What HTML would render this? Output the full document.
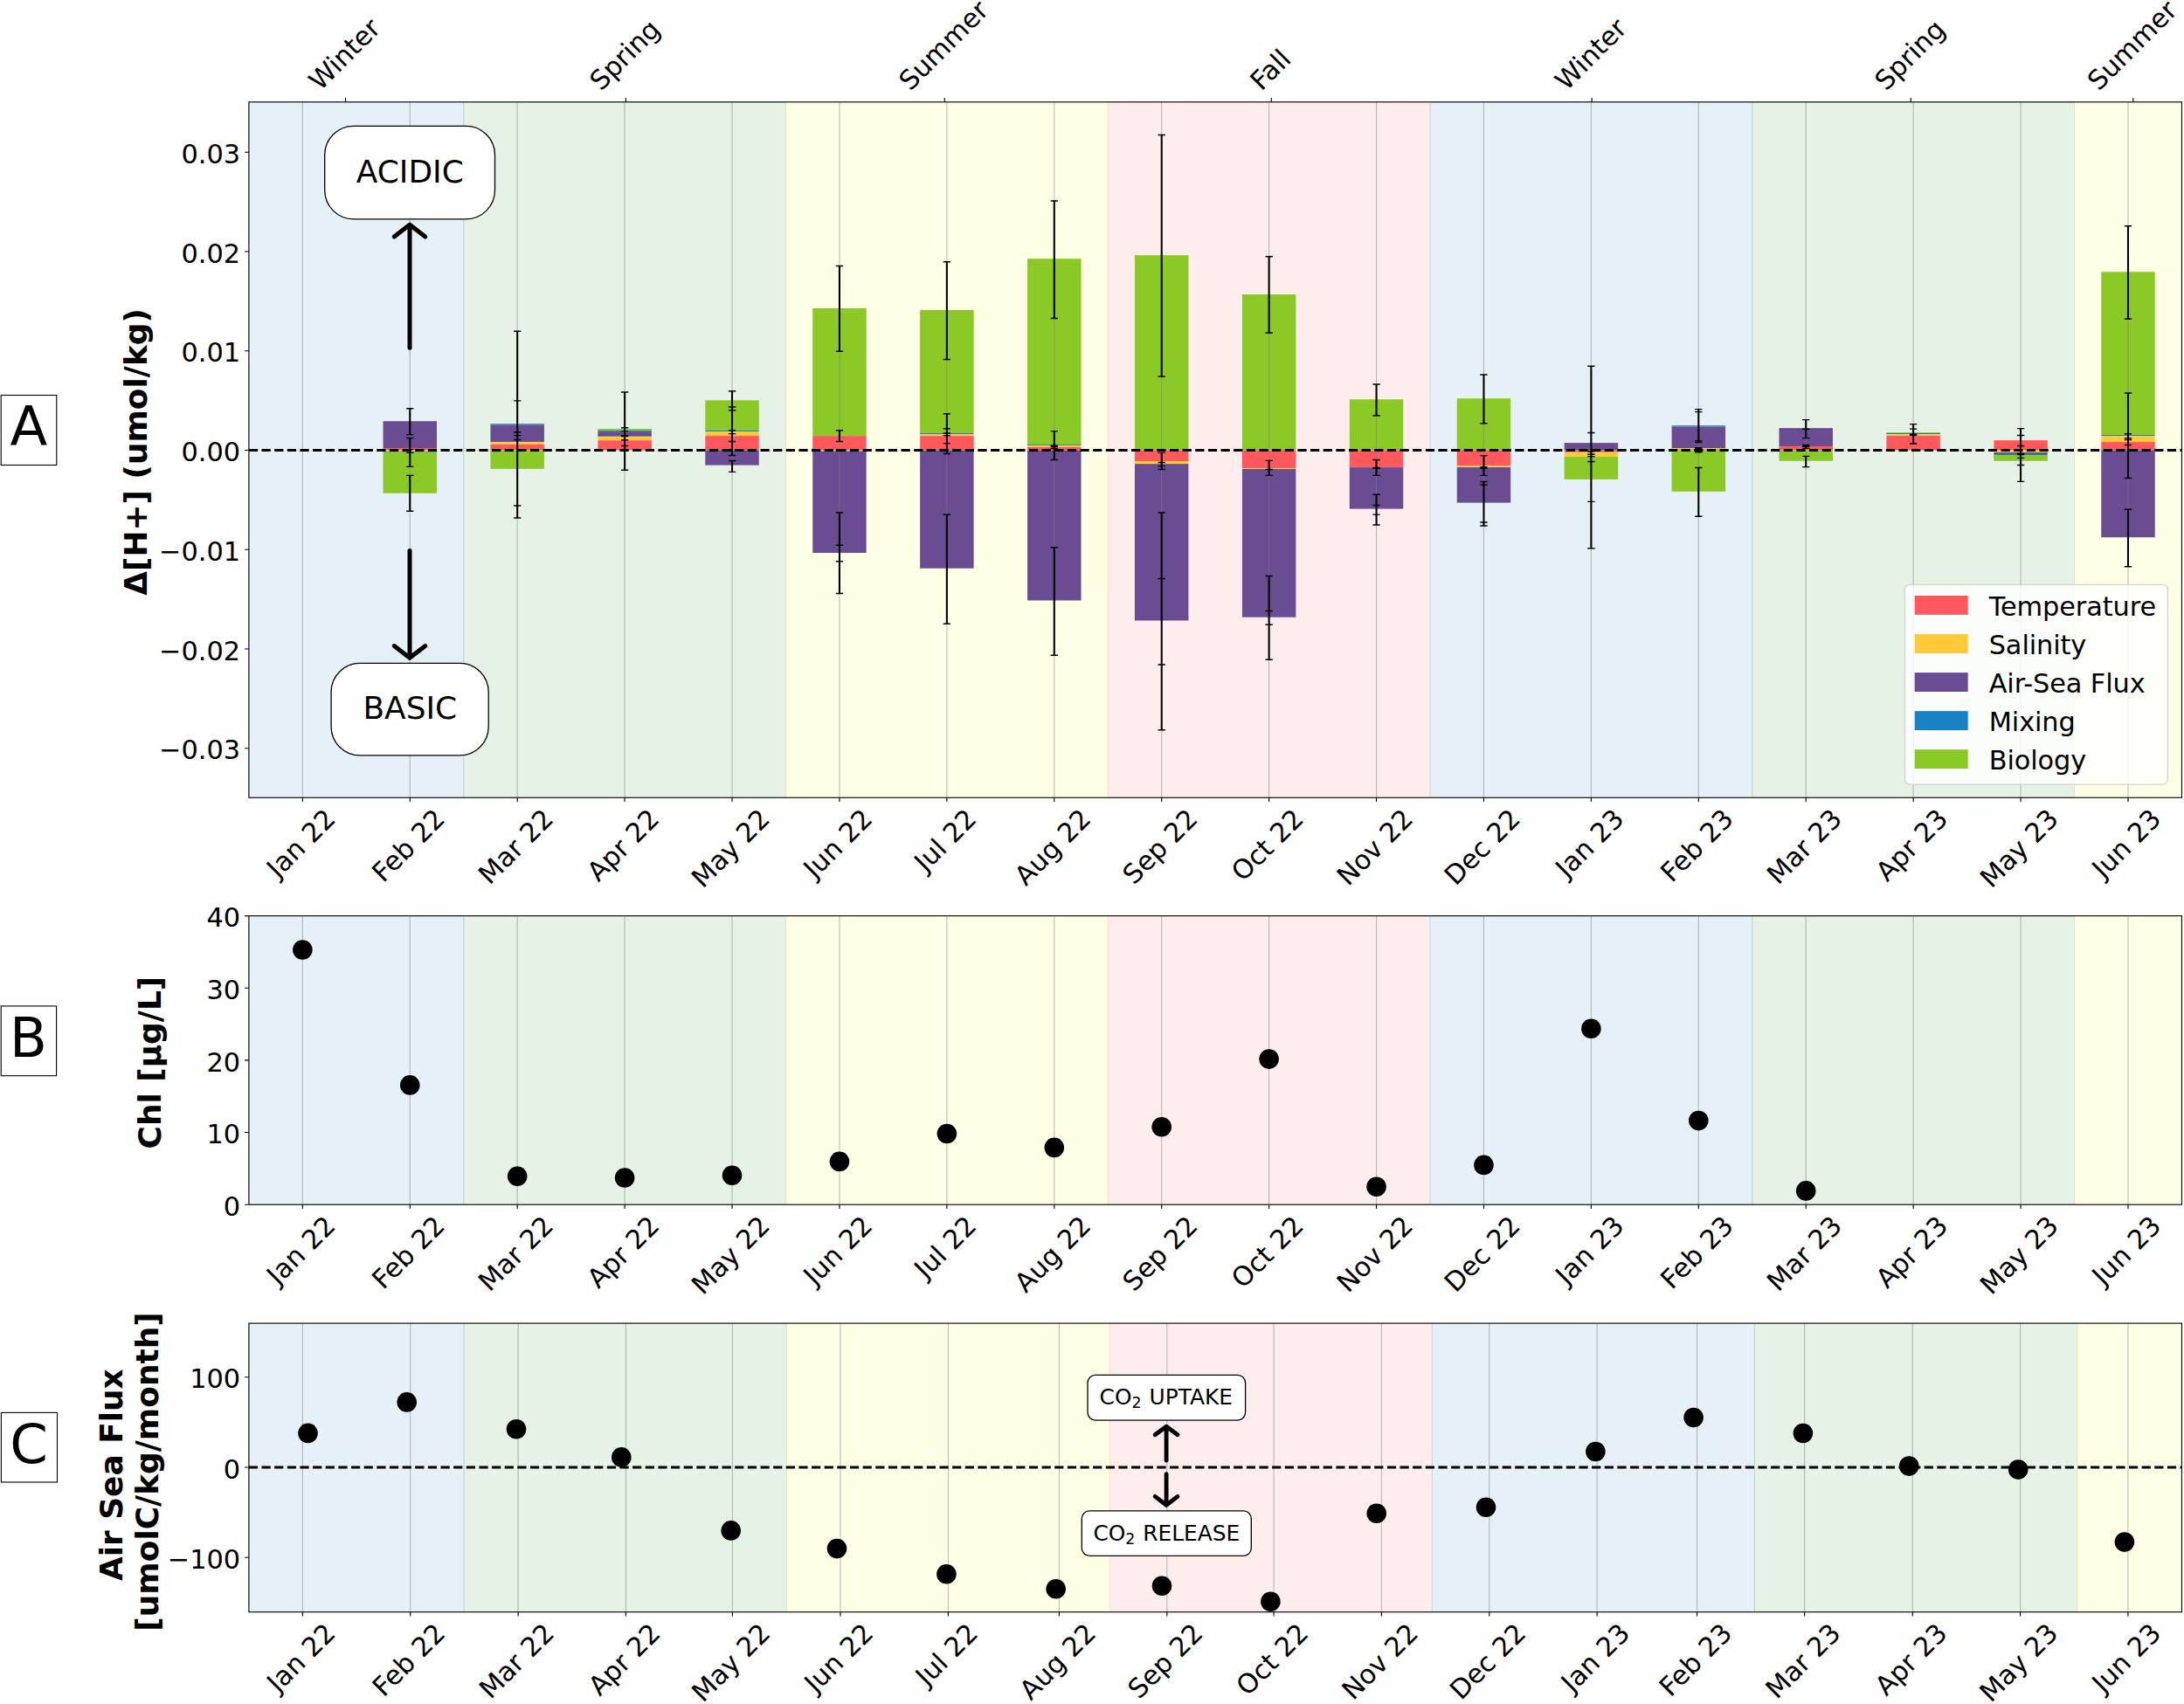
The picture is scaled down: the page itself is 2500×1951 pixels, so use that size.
<!DOCTYPE html>
<html><head><meta charset="utf-8"><title>Figure</title>
<style>
html,body{margin:0;padding:0;background:#fff}
svg{display:block}
text{font-family:"DejaVu Sans","Liberation Sans",sans-serif;fill:#000}
</style></head>
<body>
<svg width="2500" height="1951" viewBox="0 0 2500 1951">
<rect width="2500" height="1951" fill="#fff"/>
<g id="panelA">
<rect x="284.89" y="116.8" width="2212.56" height="796.45" fill="#fff"/>
<rect x="284.89" y="116.8" width="245.84" height="796.45" fill="rgba(0,114,178,0.1)" stroke="rgba(0,114,178,0.1)" stroke-width="1.1"/>
<rect x="530.73" y="116.8" width="368.76" height="796.45" fill="rgba(0,128,0,0.1)" stroke="rgba(0,128,0,0.1)" stroke-width="1.1"/>
<rect x="899.49" y="116.8" width="368.76" height="796.45" fill="rgba(255,255,0,0.1)" stroke="rgba(255,255,0,0.1)" stroke-width="1.1"/>
<rect x="1268.25" y="116.8" width="368.76" height="796.45" fill="rgba(255,0,0,0.07)" stroke="rgba(255,0,0,0.07)" stroke-width="1.1"/>
<rect x="1637.01" y="116.8" width="368.76" height="796.45" fill="rgba(0,114,178,0.1)" stroke="rgba(0,114,178,0.1)" stroke-width="1.1"/>
<rect x="2005.77" y="116.8" width="368.76" height="796.45" fill="rgba(0,128,0,0.1)" stroke="rgba(0,128,0,0.1)" stroke-width="1.1"/>
<rect x="2374.53" y="116.8" width="122.92" height="796.45" fill="rgba(255,255,0,0.1)" stroke="rgba(255,255,0,0.1)" stroke-width="1.1"/>
<rect x="438.54" y="482.25" width="61.46" height="30.75" fill="#6a4c93"/>
<rect x="438.54" y="513" width="61.46" height="2.5" fill="#ff595e"/>
<rect x="438.54" y="515.5" width="61.46" height="1.4" fill="#ffca3a"/>
<rect x="438.54" y="516.9" width="61.46" height="0.8" fill="#1982c4"/>
<rect x="438.54" y="517.7" width="61.46" height="47.05" fill="#8ac926"/>
<rect x="561.46" y="485.2" width="61.46" height="1.15" fill="#1982c4"/>
<rect x="561.46" y="486.35" width="61.46" height="19.6" fill="#6a4c93"/>
<rect x="561.46" y="505.95" width="61.46" height="2.95" fill="#ffca3a"/>
<rect x="561.46" y="508.9" width="61.46" height="6.6" fill="#ff595e"/>
<rect x="561.46" y="515.5" width="61.46" height="21.3" fill="#8ac926"/>
<rect x="684.38" y="490.95" width="61.46" height="1.95" fill="#8ac926"/>
<rect x="684.38" y="492.9" width="61.46" height="1.2" fill="#1982c4"/>
<rect x="684.38" y="494.1" width="61.46" height="5.7" fill="#6a4c93"/>
<rect x="684.38" y="499.8" width="61.46" height="4.4" fill="#ffca3a"/>
<rect x="684.38" y="504.2" width="61.46" height="11.3" fill="#ff595e"/>
<rect x="807.3" y="458.3" width="61.46" height="34.6" fill="#8ac926"/>
<rect x="807.3" y="492.9" width="61.46" height="1.2" fill="#1982c4"/>
<rect x="807.3" y="494.1" width="61.46" height="5" fill="#ffca3a"/>
<rect x="807.3" y="499.1" width="61.46" height="16.4" fill="#ff595e"/>
<rect x="807.3" y="515.5" width="61.46" height="17.1" fill="#6a4c93"/>
<rect x="930.22" y="353" width="61.46" height="146.1" fill="#8ac926"/>
<rect x="930.22" y="499.1" width="61.46" height="16.4" fill="#ff595e"/>
<rect x="930.22" y="515.5" width="61.46" height="1" fill="#ffca3a"/>
<rect x="930.22" y="516.5" width="61.46" height="116.5" fill="#6a4c93"/>
<rect x="1053.14" y="355" width="61.46" height="140.85" fill="#8ac926"/>
<rect x="1053.14" y="495.85" width="61.46" height="1.25" fill="#1982c4"/>
<rect x="1053.14" y="497.1" width="61.46" height="2" fill="#ffca3a"/>
<rect x="1053.14" y="499.1" width="61.46" height="16.4" fill="#ff595e"/>
<rect x="1053.14" y="515.5" width="61.46" height="135.25" fill="#6a4c93"/>
<rect x="1176.06" y="296.25" width="61.46" height="212.85" fill="#8ac926"/>
<rect x="1176.06" y="509.1" width="61.46" height="0.95" fill="#1982c4"/>
<rect x="1176.06" y="510.05" width="61.46" height="1.95" fill="#ffca3a"/>
<rect x="1176.06" y="512" width="61.46" height="3.5" fill="#ff595e"/>
<rect x="1176.06" y="515.5" width="61.46" height="172" fill="#6a4c93"/>
<rect x="1298.98" y="292.25" width="61.46" height="223.25" fill="#8ac926"/>
<rect x="1298.98" y="515.5" width="61.46" height="12.5" fill="#ff595e"/>
<rect x="1298.98" y="528" width="61.46" height="3.1" fill="#ffca3a"/>
<rect x="1298.98" y="531.1" width="61.46" height="179.4" fill="#6a4c93"/>
<rect x="1421.9" y="337.1" width="61.46" height="178.4" fill="#8ac926"/>
<rect x="1421.9" y="515.5" width="61.46" height="20.55" fill="#ff595e"/>
<rect x="1421.9" y="536.05" width="61.46" height="0.95" fill="#ffca3a"/>
<rect x="1421.9" y="537" width="61.46" height="169.7" fill="#6a4c93"/>
<rect x="1544.82" y="457.25" width="61.46" height="58.25" fill="#8ac926"/>
<rect x="1544.82" y="515.5" width="61.46" height="19.6" fill="#ff595e"/>
<rect x="1544.82" y="535.1" width="61.46" height="47.5" fill="#6a4c93"/>
<rect x="1667.74" y="456.25" width="61.46" height="59.25" fill="#8ac926"/>
<rect x="1667.74" y="515.5" width="61.46" height="17.6" fill="#ff595e"/>
<rect x="1667.74" y="533.1" width="61.46" height="1.95" fill="#ffca3a"/>
<rect x="1667.74" y="535.05" width="61.46" height="40.55" fill="#6a4c93"/>
<rect x="1790.66" y="507.1" width="61.46" height="8.4" fill="#6a4c93"/>
<rect x="1790.66" y="515.5" width="61.46" height="2.2" fill="#ff595e"/>
<rect x="1790.66" y="517.7" width="61.46" height="5.2" fill="#ffca3a"/>
<rect x="1790.66" y="522.9" width="61.46" height="25.95" fill="#8ac926"/>
<rect x="1913.58" y="487.2" width="61.46" height="1.4" fill="#1982c4"/>
<rect x="1913.58" y="488.6" width="61.46" height="24.5" fill="#6a4c93"/>
<rect x="1913.58" y="513.1" width="61.46" height="1.3" fill="#ffca3a"/>
<rect x="1913.58" y="514.4" width="61.46" height="1.1" fill="#ff595e"/>
<rect x="1913.58" y="515.5" width="61.46" height="47.3" fill="#8ac926"/>
<rect x="2036.5" y="490.1" width="61.46" height="20.85" fill="#6a4c93"/>
<rect x="2036.5" y="510.95" width="61.46" height="4.55" fill="#ff595e"/>
<rect x="2036.5" y="515.5" width="61.46" height="12.2" fill="#8ac926"/>
<rect x="2159.42" y="495.1" width="61.46" height="0.85" fill="#8ac926"/>
<rect x="2159.42" y="495.95" width="61.46" height="1.1" fill="#1982c4"/>
<rect x="2159.42" y="497.05" width="61.46" height="1.95" fill="#ffca3a"/>
<rect x="2159.42" y="499" width="61.46" height="16.5" fill="#ff595e"/>
<rect x="2282.34" y="504.1" width="61.46" height="11.4" fill="#ff595e"/>
<rect x="2282.34" y="515.5" width="61.46" height="2.5" fill="#ffca3a"/>
<rect x="2282.34" y="518" width="61.46" height="1.95" fill="#6a4c93"/>
<rect x="2282.34" y="519.95" width="61.46" height="1.1" fill="#1982c4"/>
<rect x="2282.34" y="521.05" width="61.46" height="6.75" fill="#8ac926"/>
<rect x="2405.26" y="311.3" width="61.46" height="186.6" fill="#8ac926"/>
<rect x="2405.26" y="497.9" width="61.46" height="1.15" fill="#1982c4"/>
<rect x="2405.26" y="499.05" width="61.46" height="7" fill="#ffca3a"/>
<rect x="2405.26" y="506.05" width="61.46" height="9.45" fill="#ff595e"/>
<rect x="2405.26" y="515.5" width="61.46" height="99.7" fill="#6a4c93"/>
<path d="M346.35 116.8V913.25M469.27 116.8V913.25M592.19 116.8V913.25M715.11 116.8V913.25M838.03 116.8V913.25M960.95 116.8V913.25M1083.87 116.8V913.25M1206.79 116.8V913.25M1329.71 116.8V913.25M1452.63 116.8V913.25M1575.55 116.8V913.25M1698.47 116.8V913.25M1821.39 116.8V913.25M1944.31 116.8V913.25M2067.23 116.8V913.25M2190.15 116.8V913.25M2313.07 116.8V913.25M2435.99 116.8V913.25" stroke="#808080" stroke-opacity="0.5" stroke-width="1.11" fill="none"/>
<path d="M469.27 467.7V497.6M469.27 501.5V534.4M469.27 544.4V585.25" stroke="#000" stroke-width="2.08" fill="none"/>
<path d="M465.11 467.7h8.33M465.11 497.6h8.33M465.11 501.5h8.33M465.11 514.6h8.33M465.11 518.2h8.33M465.11 534.4h8.33M465.11 544.4h8.33M465.11 585.25h8.33" stroke="#000" stroke-width="1.39" fill="none"/>
<path d="M592.19 379.25V593" stroke="#000" stroke-width="2.08" fill="none"/>
<path d="M588.03 379.25h8.33M588.03 458.9h8.33M588.03 494.7h8.33M588.03 498.6h8.33M588.03 503.5h8.33M588.03 579h8.33M588.03 593h8.33" stroke="#000" stroke-width="1.39" fill="none"/>
<path d="M715.11 449V538.3" stroke="#000" stroke-width="2.08" fill="none"/>
<path d="M710.95 449h8.33M710.95 489.8h8.33M710.95 493.6h8.33M710.95 498.8h8.33M710.95 499.6h8.33M710.95 503.7h8.33M710.95 510.55h8.33M710.95 538.3h8.33" stroke="#000" stroke-width="1.39" fill="none"/>
<path d="M838.03 447.8V521.5M838.03 527.5V540.4" stroke="#000" stroke-width="2.08" fill="none"/>
<path d="M833.87 447.8h8.33M833.87 466h8.33M833.87 469.7h8.33M833.87 492.9h8.33M833.87 496.6h8.33M833.87 505.45h8.33M833.87 521.5h8.33M833.87 527.5h8.33M833.87 540.4h8.33" stroke="#000" stroke-width="1.39" fill="none"/>
<path d="M960.95 304.5V402.25M960.95 492.7V505.45M960.95 587V679.5" stroke="#000" stroke-width="2.08" fill="none"/>
<path d="M956.79 304.5h8.33M956.79 402.25h8.33M956.79 492.7h8.33M956.79 505.45h8.33M956.79 514.8h8.33M956.79 516.3h8.33M956.79 587h8.33M956.79 624.25h8.33M956.79 642.75h8.33M956.79 679.5h8.33" stroke="#000" stroke-width="1.39" fill="none"/>
<path d="M1083.87 299.75V411.5M1083.87 473.8V519.55M1083.87 589.25V714.25" stroke="#000" stroke-width="2.08" fill="none"/>
<path d="M1079.7 299.75h8.33M1079.7 411.5h8.33M1079.7 473.8h8.33M1079.7 490.75h8.33M1079.7 496.05h8.33M1079.7 498.6h8.33M1079.7 507.6h8.33M1079.7 519.55h8.33M1079.7 589.25h8.33M1079.7 714.25h8.33" stroke="#000" stroke-width="1.39" fill="none"/>
<path d="M1206.79 230V364.5M1206.79 493.6V526.5M1206.79 626.75V750.25" stroke="#000" stroke-width="2.08" fill="none"/>
<path d="M1202.62 230h8.33M1202.62 364.5h8.33M1202.62 493.6h8.33M1202.62 510.2h8.33M1202.62 511.2h8.33M1202.62 513.5h8.33M1202.62 526.5h8.33M1202.62 626.75h8.33M1202.62 750.25h8.33" stroke="#000" stroke-width="1.39" fill="none"/>
<path d="M1329.71 154.5V431.25M1329.71 518.4V537.5M1329.71 587V835.75" stroke="#000" stroke-width="2.08" fill="none"/>
<path d="M1325.55 154.5h8.33M1325.55 431.25h8.33M1325.55 518.4h8.33M1325.55 529.45h8.33M1325.55 533.6h8.33M1325.55 537.5h8.33M1325.55 587h8.33M1325.55 662.5h8.33M1325.55 761h8.33M1325.55 835.75h8.33" stroke="#000" stroke-width="1.39" fill="none"/>
<path d="M1452.63 293.75V381.25M1452.63 527.4V544.4M1452.63 659.5V755.25" stroke="#000" stroke-width="2.08" fill="none"/>
<path d="M1448.47 293.75h8.33M1448.47 381.25h8.33M1448.47 527.4h8.33M1448.47 537.5h8.33M1448.47 544.4h8.33M1448.47 659.5h8.33M1448.47 699.5h8.33M1448.47 715.25h8.33M1448.47 755.25h8.33" stroke="#000" stroke-width="1.39" fill="none"/>
<path d="M1575.55 440V475.75M1575.55 526.55V544.4M1575.55 566.2V601" stroke="#000" stroke-width="2.08" fill="none"/>
<path d="M1571.39 440h8.33M1571.39 475.75h8.33M1571.39 526.55h8.33M1571.39 535.5h8.33M1571.39 536.3h8.33M1571.39 544.4h8.33M1571.39 566.2h8.33M1571.39 578.5h8.33M1571.39 589.15h8.33M1571.39 601h8.33" stroke="#000" stroke-width="1.39" fill="none"/>
<path d="M1698.47 429V484.7M1698.47 521.6V544.4M1698.47 551.5V602" stroke="#000" stroke-width="2.08" fill="none"/>
<path d="M1694.31 429h8.33M1694.31 484.7h8.33M1694.31 521.6h8.33M1694.31 534.6h8.33M1694.31 536.3h8.33M1694.31 544.4h8.33M1694.31 551.5h8.33M1694.31 555.25h8.33M1694.31 598h8.33M1694.31 602h8.33" stroke="#000" stroke-width="1.39" fill="none"/>
<path d="M1821.39 419.25V627.75" stroke="#000" stroke-width="2.08" fill="none"/>
<path d="M1817.22 419.25h8.33M1817.22 495.5h8.33M1817.22 516.7h8.33M1817.22 520.2h8.33M1817.22 522.6h8.33M1817.22 528.5h8.33M1817.22 574.35h8.33M1817.22 627.75h8.33" stroke="#000" stroke-width="1.39" fill="none"/>
<path d="M1944.31 468.6V506.5M1944.31 512.5V518M1944.31 535.45V591.25" stroke="#000" stroke-width="2.08" fill="none"/>
<path d="M1940.14 468.6h8.33M1940.14 471.6h8.33M1940.14 504.6h8.33M1940.14 506.5h8.33M1940.14 512.8h8.33M1940.14 514.2h8.33M1940.14 516.6h8.33M1940.14 517.8h8.33M1940.14 535.45h8.33M1940.14 591.25h8.33" stroke="#000" stroke-width="1.39" fill="none"/>
<path d="M2067.23 480.6V501.65M2067.23 509.5V513.4M2067.23 522.4V534.65" stroke="#000" stroke-width="2.08" fill="none"/>
<path d="M2063.07 480.6h8.33M2063.07 491.35h8.33M2063.07 501.65h8.33M2063.07 509.5h8.33M2063.07 511.25h8.33M2063.07 513.4h8.33M2063.07 522.4h8.33M2063.07 534.65h8.33" stroke="#000" stroke-width="1.39" fill="none"/>
<path d="M2190.15 485.65V508" stroke="#000" stroke-width="2.08" fill="none"/>
<path d="M2185.99 485.65h8.33M2185.99 491.15h8.33M2185.99 497.2h8.33M2185.99 498.2h8.33M2185.99 508h8.33" stroke="#000" stroke-width="1.39" fill="none"/>
<path d="M2313.07 490.65V551.4" stroke="#000" stroke-width="2.08" fill="none"/>
<path d="M2308.91 490.65h8.33M2308.91 498.5h8.33M2308.91 510.45h8.33M2308.91 519.5h8.33M2308.91 520.5h8.33M2308.91 524.4h8.33M2308.91 532.5h8.33M2308.91 551.4h8.33" stroke="#000" stroke-width="1.39" fill="none"/>
<path d="M2435.99 258.7V365.3M2435.99 450V547.5M2435.99 583.3V648.8" stroke="#000" stroke-width="2.08" fill="none"/>
<path d="M2431.82 258.7h8.33M2431.82 365.3h8.33M2431.82 450h8.33M2431.82 496.75h8.33M2431.82 501.7h8.33M2431.82 503.6h8.33M2431.82 509.55h8.33M2431.82 547.5h8.33M2431.82 583.3h8.33M2431.82 648.8h8.33" stroke="#000" stroke-width="1.39" fill="none"/>
<path d="M284.89 515.5H2497.45" stroke="#000" stroke-width="2.76" stroke-dasharray="10.22 4.42" fill="none"/>
<rect x="284.89" y="116.8" width="2212.56" height="796.45" fill="none" stroke="#000" stroke-width="1.11"/>
<path d="M284.89 174.31h-4.86M284.89 288.04h-4.86M284.89 401.77h-4.86M284.89 515.5h-4.86M284.89 629.23h-4.86M284.89 742.96h-4.86M284.89 856.69h-4.86" stroke="#000" stroke-width="1.11" fill="none"/>
<text x="275.17" y="186.92" font-size="30.39" text-anchor="end">0.03</text>
<text x="275.17" y="300.65" font-size="30.39" text-anchor="end">0.02</text>
<text x="275.17" y="414.38" font-size="30.39" text-anchor="end">0.01</text>
<text x="275.17" y="528.11" font-size="30.39" text-anchor="end">0.00</text>
<text x="275.17" y="641.84" font-size="30.39" text-anchor="end">−0.01</text>
<text x="275.17" y="755.57" font-size="30.39" text-anchor="end">−0.02</text>
<text x="275.17" y="869.3" font-size="30.39" text-anchor="end">−0.03</text>
<path d="M346.35 913.25v4.86M469.27 913.25v4.86M592.19 913.25v4.86M715.11 913.25v4.86M838.03 913.25v4.86M960.95 913.25v4.86M1083.87 913.25v4.86M1206.79 913.25v4.86M1329.71 913.25v4.86M1452.63 913.25v4.86M1575.55 913.25v4.86M1698.47 913.25v4.86M1821.39 913.25v4.86M1944.31 913.25v4.86M2067.23 913.25v4.86M2190.15 913.25v4.86M2313.07 913.25v4.86M2435.99 913.25v4.86" stroke="#000" stroke-width="1.11" fill="none"/>
<text transform="translate(346.35,967.32) rotate(-45)" x="0" y="7.96" font-size="30.39" text-anchor="middle">Jan 22</text>
<text transform="translate(469.27,969.78) rotate(-45)" x="0" y="7.96" font-size="30.39" text-anchor="middle">Feb 22</text>
<text transform="translate(592.19,971.03) rotate(-45)" x="0" y="7.96" font-size="30.39" text-anchor="middle">Mar 22</text>
<text transform="translate(715.11,969.34) rotate(-45)" x="0" y="7.96" font-size="30.39" text-anchor="middle">Apr 22</text>
<text transform="translate(838.03,972.97) rotate(-45)" x="0" y="7.96" font-size="30.39" text-anchor="middle">May 22</text>
<text transform="translate(960.95,967.54) rotate(-45)" x="0" y="7.96" font-size="30.39" text-anchor="middle">Jun 22</text>
<text transform="translate(1083.87,963.72) rotate(-45)" x="0" y="7.96" font-size="30.39" text-anchor="middle">Jul 22</text>
<text transform="translate(1206.79,971.74) rotate(-45)" x="0" y="7.96" font-size="30.39" text-anchor="middle">Aug 22</text>
<text transform="translate(1329.71,971.01) rotate(-45)" x="0" y="7.96" font-size="30.39" text-anchor="middle">Sep 22</text>
<text transform="translate(1452.63,969.33) rotate(-45)" x="0" y="7.96" font-size="30.39" text-anchor="middle">Oct 22</text>
<text transform="translate(1575.55,971.72) rotate(-45)" x="0" y="7.96" font-size="30.39" text-anchor="middle">Nov 22</text>
<text transform="translate(1698.47,971.55) rotate(-45)" x="0" y="7.96" font-size="30.39" text-anchor="middle">Dec 22</text>
<text transform="translate(1821.39,967.32) rotate(-45)" x="0" y="7.96" font-size="30.39" text-anchor="middle">Jan 23</text>
<text transform="translate(1944.31,969.78) rotate(-45)" x="0" y="7.96" font-size="30.39" text-anchor="middle">Feb 23</text>
<text transform="translate(2067.23,971.03) rotate(-45)" x="0" y="7.96" font-size="30.39" text-anchor="middle">Mar 23</text>
<text transform="translate(2190.15,969.34) rotate(-45)" x="0" y="7.96" font-size="30.39" text-anchor="middle">Apr 23</text>
<text transform="translate(2313.07,972.97) rotate(-45)" x="0" y="7.96" font-size="30.39" text-anchor="middle">May 23</text>
<text transform="translate(2435.99,967.54) rotate(-45)" x="0" y="7.96" font-size="30.39" text-anchor="middle">Jun 23</text>
<path d="M395.5 116.8v-4.86M716.4 116.8v-4.86M1081.3 116.8v-4.86M1455.3 116.8v-4.86M1822.1 116.8v-4.86M2187.3 116.8v-4.86M2441.8 116.8v-4.86" stroke="#000" stroke-width="1.11" fill="none"/>
<text transform="translate(396.2,63.86) rotate(-45)" x="0" y="7.96" font-size="30.39" text-anchor="middle">Winter</text>
<text transform="translate(717.1,64.61) rotate(-45)" x="0" y="7.96" font-size="30.39" text-anchor="middle">Spring</text>
<text transform="translate(1082,53.69) rotate(-45)" x="0" y="7.96" font-size="30.39" text-anchor="middle">Summer</text>
<text transform="translate(1456,81.53) rotate(-45)" x="0" y="7.96" font-size="30.39" text-anchor="middle">Fall</text>
<text transform="translate(1822.8,63.86) rotate(-45)" x="0" y="7.96" font-size="30.39" text-anchor="middle">Winter</text>
<text transform="translate(2188,64.61) rotate(-45)" x="0" y="7.96" font-size="30.39" text-anchor="middle">Spring</text>
<text transform="translate(2442.5,53.69) rotate(-45)" x="0" y="7.96" font-size="30.39" text-anchor="middle">Summer</text>
<text transform="translate(168.3,517.4) rotate(-90)" font-size="35.91" font-weight="bold" text-anchor="middle">Δ[H+] (umol/kg)</text>
<rect x="371.7" y="144.3" width="194.8" height="106.5" rx="33" ry="33" fill="#fff" stroke="#000" stroke-width="1.3"/>
<text x="469.3" y="208.9" font-size="35.91" text-anchor="middle">ACIDIC</text>
<rect x="379.1" y="759.3" width="180.1" height="105.6" rx="33" ry="33" fill="#fff" stroke="#000" stroke-width="1.3"/>
<text x="469.3" y="823" font-size="35.91" text-anchor="middle">BASIC</text>
<path d="M469 398.2V257.3 M451.2 271L469 257.3L486.8 271" stroke="#000" stroke-width="5" stroke-linecap="round" stroke-linejoin="round" fill="none"/>
<path d="M469 630.5V753.3 M451.2 739.6L469 753.3L486.8 739.6" stroke="#000" stroke-width="5" stroke-linecap="round" stroke-linejoin="round" fill="none"/>
<rect x="2180.5" y="669.4" width="300.8" height="228.7" rx="5.5" ry="5.5" fill="#fff" fill-opacity="0.8" stroke="#ccc" stroke-opacity="0.8" stroke-width="1.39"/>
<rect x="2191.7" y="682" width="61" height="21.9" fill="#ff595e"/>
<text x="2276.7" y="705" font-size="30.39" letter-spacing="-0.1">Temperature</text>
<rect x="2191.7" y="726.05" width="61" height="21.9" fill="#ffca3a"/>
<text x="2276.7" y="748.9" font-size="30.39" letter-spacing="-0.1">Salinity</text>
<rect x="2191.7" y="770.1" width="61" height="21.9" fill="#6a4c93"/>
<text x="2276.7" y="792.8" font-size="30.39" letter-spacing="-0.1">Air-Sea Flux</text>
<rect x="2191.7" y="814.15" width="61" height="21.9" fill="#1982c4"/>
<text x="2276.7" y="836.7" font-size="30.39" letter-spacing="-0.1">Mixing</text>
<rect x="2191.7" y="858.2" width="61" height="21.9" fill="#8ac926"/>
<text x="2276.7" y="880.6" font-size="30.39" letter-spacing="-0.1">Biology</text>
</g>
<g id="panelB">
<rect x="284.89" y="1048.6" width="2212.56" height="330.6" fill="#fff"/>
<rect x="284.89" y="1048.6" width="245.84" height="330.6" fill="rgba(0,114,178,0.1)" stroke="rgba(0,114,178,0.1)" stroke-width="1.1"/>
<rect x="530.73" y="1048.6" width="368.76" height="330.6" fill="rgba(0,128,0,0.1)" stroke="rgba(0,128,0,0.1)" stroke-width="1.1"/>
<rect x="899.49" y="1048.6" width="368.76" height="330.6" fill="rgba(255,255,0,0.1)" stroke="rgba(255,255,0,0.1)" stroke-width="1.1"/>
<rect x="1268.25" y="1048.6" width="368.76" height="330.6" fill="rgba(255,0,0,0.07)" stroke="rgba(255,0,0,0.07)" stroke-width="1.1"/>
<rect x="1637.01" y="1048.6" width="368.76" height="330.6" fill="rgba(0,114,178,0.1)" stroke="rgba(0,114,178,0.1)" stroke-width="1.1"/>
<rect x="2005.77" y="1048.6" width="368.76" height="330.6" fill="rgba(0,128,0,0.1)" stroke="rgba(0,128,0,0.1)" stroke-width="1.1"/>
<rect x="2374.53" y="1048.6" width="122.92" height="330.6" fill="rgba(255,255,0,0.1)" stroke="rgba(255,255,0,0.1)" stroke-width="1.1"/>
<path d="M346.35 1048.6V1379.2M469.27 1048.6V1379.2M592.19 1048.6V1379.2M715.11 1048.6V1379.2M838.03 1048.6V1379.2M960.95 1048.6V1379.2M1083.87 1048.6V1379.2M1206.79 1048.6V1379.2M1329.71 1048.6V1379.2M1452.63 1048.6V1379.2M1575.55 1048.6V1379.2M1698.47 1048.6V1379.2M1821.39 1048.6V1379.2M1944.31 1048.6V1379.2M2067.23 1048.6V1379.2M2190.15 1048.6V1379.2M2313.07 1048.6V1379.2M2435.99 1048.6V1379.2" stroke="#808080" stroke-opacity="0.5" stroke-width="1.11" fill="none"/>
<circle cx="346.35" cy="1087.5" r="11.3" fill="#000"/>
<circle cx="469.27" cy="1242.4" r="11.3" fill="#000"/>
<circle cx="592.19" cy="1346.8" r="11.3" fill="#000"/>
<circle cx="715.11" cy="1348.5" r="11.3" fill="#000"/>
<circle cx="838.03" cy="1345.8" r="11.3" fill="#000"/>
<circle cx="960.95" cy="1329.9" r="11.3" fill="#000"/>
<circle cx="1083.87" cy="1298" r="11.3" fill="#000"/>
<circle cx="1206.79" cy="1313.9" r="11.3" fill="#000"/>
<circle cx="1329.71" cy="1290.2" r="11.3" fill="#000"/>
<circle cx="1452.63" cy="1212.6" r="11.3" fill="#000"/>
<circle cx="1575.55" cy="1358.7" r="11.3" fill="#000"/>
<circle cx="1698.47" cy="1333.9" r="11.3" fill="#000"/>
<circle cx="1821.39" cy="1177.7" r="11.3" fill="#000"/>
<circle cx="1944.31" cy="1283.1" r="11.3" fill="#000"/>
<circle cx="2067.23" cy="1363.4" r="11.3" fill="#000"/>
<rect x="284.89" y="1048.6" width="2212.56" height="330.6" fill="none" stroke="#000" stroke-width="1.11"/>
<path d="M284.89 1048.6h-4.86M284.89 1131.25h-4.86M284.89 1213.9h-4.86M284.89 1296.55h-4.86M284.89 1379.2h-4.86" stroke="#000" stroke-width="1.11" fill="none"/>
<text x="275.17" y="1061.21" font-size="30.39" text-anchor="end">40</text>
<text x="275.17" y="1143.86" font-size="30.39" text-anchor="end">30</text>
<text x="275.17" y="1226.51" font-size="30.39" text-anchor="end">20</text>
<text x="275.17" y="1309.16" font-size="30.39" text-anchor="end">10</text>
<text x="275.17" y="1391.81" font-size="30.39" text-anchor="end">0</text>
<path d="M346.35 1379.2v4.86M469.27 1379.2v4.86M592.19 1379.2v4.86M715.11 1379.2v4.86M838.03 1379.2v4.86M960.95 1379.2v4.86M1083.87 1379.2v4.86M1206.79 1379.2v4.86M1329.71 1379.2v4.86M1452.63 1379.2v4.86M1575.55 1379.2v4.86M1698.47 1379.2v4.86M1821.39 1379.2v4.86M1944.31 1379.2v4.86M2067.23 1379.2v4.86M2190.15 1379.2v4.86M2313.07 1379.2v4.86M2435.99 1379.2v4.86" stroke="#000" stroke-width="1.11" fill="none"/>
<text transform="translate(346.35,1433.27) rotate(-45)" x="0" y="7.96" font-size="30.39" text-anchor="middle">Jan 22</text>
<text transform="translate(469.27,1435.73) rotate(-45)" x="0" y="7.96" font-size="30.39" text-anchor="middle">Feb 22</text>
<text transform="translate(592.19,1436.98) rotate(-45)" x="0" y="7.96" font-size="30.39" text-anchor="middle">Mar 22</text>
<text transform="translate(715.11,1435.29) rotate(-45)" x="0" y="7.96" font-size="30.39" text-anchor="middle">Apr 22</text>
<text transform="translate(838.03,1438.92) rotate(-45)" x="0" y="7.96" font-size="30.39" text-anchor="middle">May 22</text>
<text transform="translate(960.95,1433.49) rotate(-45)" x="0" y="7.96" font-size="30.39" text-anchor="middle">Jun 22</text>
<text transform="translate(1083.87,1429.67) rotate(-45)" x="0" y="7.96" font-size="30.39" text-anchor="middle">Jul 22</text>
<text transform="translate(1206.79,1437.69) rotate(-45)" x="0" y="7.96" font-size="30.39" text-anchor="middle">Aug 22</text>
<text transform="translate(1329.71,1436.96) rotate(-45)" x="0" y="7.96" font-size="30.39" text-anchor="middle">Sep 22</text>
<text transform="translate(1452.63,1435.28) rotate(-45)" x="0" y="7.96" font-size="30.39" text-anchor="middle">Oct 22</text>
<text transform="translate(1575.55,1437.67) rotate(-45)" x="0" y="7.96" font-size="30.39" text-anchor="middle">Nov 22</text>
<text transform="translate(1698.47,1437.5) rotate(-45)" x="0" y="7.96" font-size="30.39" text-anchor="middle">Dec 22</text>
<text transform="translate(1821.39,1433.27) rotate(-45)" x="0" y="7.96" font-size="30.39" text-anchor="middle">Jan 23</text>
<text transform="translate(1944.31,1435.73) rotate(-45)" x="0" y="7.96" font-size="30.39" text-anchor="middle">Feb 23</text>
<text transform="translate(2067.23,1436.98) rotate(-45)" x="0" y="7.96" font-size="30.39" text-anchor="middle">Mar 23</text>
<text transform="translate(2190.15,1435.29) rotate(-45)" x="0" y="7.96" font-size="30.39" text-anchor="middle">Apr 23</text>
<text transform="translate(2313.07,1438.92) rotate(-45)" x="0" y="7.96" font-size="30.39" text-anchor="middle">May 23</text>
<text transform="translate(2435.99,1433.49) rotate(-45)" x="0" y="7.96" font-size="30.39" text-anchor="middle">Jun 23</text>
<text transform="translate(184.3,1216.6) rotate(-90)" font-size="35.91" font-weight="bold" text-anchor="middle">Chl [µg/L]</text>
</g>
<g id="panelC">
<rect x="284.89" y="1515.1" width="2212.56" height="330.6" fill="#fff"/>
<rect x="284.89" y="1515.1" width="246.21" height="330.6" fill="rgba(0,114,178,0.1)" stroke="rgba(0,114,178,0.1)" stroke-width="1.1"/>
<rect x="531.1" y="1515.1" width="369.3" height="330.6" fill="rgba(0,128,0,0.1)" stroke="rgba(0,128,0,0.1)" stroke-width="1.1"/>
<rect x="900.4" y="1515.1" width="369.7" height="330.6" fill="rgba(255,255,0,0.1)" stroke="rgba(255,255,0,0.1)" stroke-width="1.1"/>
<rect x="1270.1" y="1515.1" width="369.3" height="330.6" fill="rgba(255,0,0,0.07)" stroke="rgba(255,0,0,0.07)" stroke-width="1.1"/>
<rect x="1639.4" y="1515.1" width="369" height="330.6" fill="rgba(0,114,178,0.1)" stroke="rgba(0,114,178,0.1)" stroke-width="1.1"/>
<rect x="2008.4" y="1515.1" width="369.6" height="330.6" fill="rgba(0,128,0,0.1)" stroke="rgba(0,128,0,0.1)" stroke-width="1.1"/>
<rect x="2378" y="1515.1" width="119.45" height="330.6" fill="rgba(255,255,0,0.1)" stroke="rgba(255,255,0,0.1)" stroke-width="1.1"/>
<path d="M346.4 1515.1V1845.7M469.7 1515.1V1845.7M593.1 1515.1V1845.7M716.4 1515.1V1845.7M838.4 1515.1V1845.7M962 1515.1V1845.7M1085.4 1515.1V1845.7M1212.4 1515.1V1845.7M1335.8 1515.1V1845.7M1458.1 1515.1V1845.7M1581.4 1515.1V1845.7M1704.8 1515.1V1845.7M1828.1 1515.1V1845.7M1942.6 1515.1V1845.7M2065.6 1515.1V1845.7M2189.3 1515.1V1845.7M2312.6 1515.1V1845.7M2435.9 1515.1V1845.7" stroke="#808080" stroke-opacity="0.5" stroke-width="1.11" fill="none"/>
<path d="M284.89 1680H2497.45" stroke="#000" stroke-width="2.76" stroke-dasharray="10.22 4.42" fill="none"/>
<circle cx="352.5" cy="1640.9" r="11.3" fill="#000"/>
<circle cx="465.7" cy="1605.4" r="11.3" fill="#000"/>
<circle cx="591" cy="1636.2" r="11.3" fill="#000"/>
<circle cx="711.3" cy="1668.4" r="11.3" fill="#000"/>
<circle cx="836.7" cy="1752.4" r="11.3" fill="#000"/>
<circle cx="958" cy="1773.1" r="11.3" fill="#000"/>
<circle cx="1083.4" cy="1802.2" r="11.3" fill="#000"/>
<circle cx="1208.7" cy="1819.2" r="11.3" fill="#000"/>
<circle cx="1330" cy="1815.8" r="11.3" fill="#000"/>
<circle cx="1454.4" cy="1833.7" r="11.3" fill="#000"/>
<circle cx="1575.7" cy="1732.8" r="11.3" fill="#000"/>
<circle cx="1701" cy="1725.7" r="11.3" fill="#000"/>
<circle cx="1826.4" cy="1662" r="11.3" fill="#000"/>
<circle cx="1938.6" cy="1623" r="11.3" fill="#000"/>
<circle cx="2063.9" cy="1641" r="11.3" fill="#000"/>
<circle cx="2185.2" cy="1678.6" r="11.3" fill="#000"/>
<circle cx="2310.2" cy="1682.6" r="11.3" fill="#000"/>
<circle cx="2431.9" cy="1765.6" r="11.3" fill="#000"/>
<rect x="284.89" y="1515.1" width="2212.56" height="330.6" fill="none" stroke="#000" stroke-width="1.11"/>
<path d="M284.89 1576.7h-4.86M284.89 1680h-4.86M284.89 1783.3h-4.86" stroke="#000" stroke-width="1.11" fill="none"/>
<text x="275.17" y="1589.31" font-size="30.39" text-anchor="end">100</text>
<text x="275.17" y="1692.61" font-size="30.39" text-anchor="end">0</text>
<text x="275.17" y="1795.91" font-size="30.39" text-anchor="end">−100</text>
<path d="M346.4 1845.7v4.86M469.7 1845.7v4.86M593.1 1845.7v4.86M716.4 1845.7v4.86M838.4 1845.7v4.86M962 1845.7v4.86M1085.4 1845.7v4.86M1212.4 1845.7v4.86M1335.8 1845.7v4.86M1458.1 1845.7v4.86M1581.4 1845.7v4.86M1704.8 1845.7v4.86M1828.1 1845.7v4.86M1942.6 1845.7v4.86M2065.6 1845.7v4.86M2189.3 1845.7v4.86M2312.6 1845.7v4.86M2435.9 1845.7v4.86" stroke="#000" stroke-width="1.11" fill="none"/>
<text transform="translate(346.4,1899.77) rotate(-45)" x="0" y="7.96" font-size="30.39" text-anchor="middle">Jan 22</text>
<text transform="translate(469.7,1902.23) rotate(-45)" x="0" y="7.96" font-size="30.39" text-anchor="middle">Feb 22</text>
<text transform="translate(593.1,1903.48) rotate(-45)" x="0" y="7.96" font-size="30.39" text-anchor="middle">Mar 22</text>
<text transform="translate(716.4,1901.79) rotate(-45)" x="0" y="7.96" font-size="30.39" text-anchor="middle">Apr 22</text>
<text transform="translate(838.4,1905.42) rotate(-45)" x="0" y="7.96" font-size="30.39" text-anchor="middle">May 22</text>
<text transform="translate(962,1899.99) rotate(-45)" x="0" y="7.96" font-size="30.39" text-anchor="middle">Jun 22</text>
<text transform="translate(1085.4,1896.17) rotate(-45)" x="0" y="7.96" font-size="30.39" text-anchor="middle">Jul 22</text>
<text transform="translate(1212.4,1904.19) rotate(-45)" x="0" y="7.96" font-size="30.39" text-anchor="middle">Aug 22</text>
<text transform="translate(1335.8,1903.46) rotate(-45)" x="0" y="7.96" font-size="30.39" text-anchor="middle">Sep 22</text>
<text transform="translate(1458.1,1901.78) rotate(-45)" x="0" y="7.96" font-size="30.39" text-anchor="middle">Oct 22</text>
<text transform="translate(1581.4,1904.17) rotate(-45)" x="0" y="7.96" font-size="30.39" text-anchor="middle">Nov 22</text>
<text transform="translate(1704.8,1904) rotate(-45)" x="0" y="7.96" font-size="30.39" text-anchor="middle">Dec 22</text>
<text transform="translate(1828.1,1899.77) rotate(-45)" x="0" y="7.96" font-size="30.39" text-anchor="middle">Jan 23</text>
<text transform="translate(1942.6,1902.23) rotate(-45)" x="0" y="7.96" font-size="30.39" text-anchor="middle">Feb 23</text>
<text transform="translate(2065.6,1903.48) rotate(-45)" x="0" y="7.96" font-size="30.39" text-anchor="middle">Mar 23</text>
<text transform="translate(2189.3,1901.79) rotate(-45)" x="0" y="7.96" font-size="30.39" text-anchor="middle">Apr 23</text>
<text transform="translate(2312.6,1905.42) rotate(-45)" x="0" y="7.96" font-size="30.39" text-anchor="middle">May 23</text>
<text transform="translate(2435.9,1899.99) rotate(-45)" x="0" y="7.96" font-size="30.39" text-anchor="middle">Jun 23</text>
<text transform="translate(139.6,1688.7) rotate(-90)" font-size="35.91" font-weight="bold" text-anchor="middle">Air Sea Flux</text>
<text transform="translate(181.0,1685.0) rotate(-90)" font-size="35.91" font-weight="bold" text-anchor="middle">[umolC/kg/month]</text>
<rect x="1245" y="1574.4" width="180.6" height="51.7" rx="9" ry="9" fill="#fff" stroke="#000" stroke-width="1.3"/>
<rect x="1238.3" y="1729.8" width="194" height="51.6" rx="9" ry="9" fill="#fff" stroke="#000" stroke-width="1.3"/>
<text x="1258.6" y="1608" font-size="24.86">CO</text>
<text x="1295.4" y="1611.8" font-size="17.4">2</text>
<text x="1315.5" y="1608" font-size="24.86">UPTAKE</text>
<text x="1251.5" y="1763.7" font-size="24.86">CO</text>
<text x="1288.3" y="1767.5" font-size="17.4">2</text>
<text x="1308.2" y="1763.7" font-size="24.86">RELEASE</text>
<path d="M1335.1 1672.3V1633.3 M1322.2 1642.7L1335.1 1633.3L1348 1642.7" stroke="#000" stroke-width="4.86" stroke-linecap="round" stroke-linejoin="round" fill="none"/>
<path d="M1335.1 1687.8V1723.2 M1322.2 1713.4L1335.1 1723.2L1348 1713.4" stroke="#000" stroke-width="4.86" stroke-linecap="round" stroke-linejoin="round" fill="none"/>
</g>
<rect x="1.2" y="452.5" width="63.6" height="80" fill="#fff" stroke="#000" stroke-width="1.11"/>
<text x="32.9" y="510.4" font-size="62.5" text-anchor="middle">A</text>
<rect x="1.2" y="1151.9" width="63.4" height="79.8" fill="#fff" stroke="#000" stroke-width="1.11"/>
<text x="32.4" y="1210.2" font-size="62.5" text-anchor="middle">B</text>
<rect x="1.4" y="1617.4" width="64.1" height="79.6" fill="#fff" stroke="#000" stroke-width="1.11"/>
<text x="33.1" y="1674.6" font-size="62.5" text-anchor="middle">C</text>
</svg>
</body></html>
